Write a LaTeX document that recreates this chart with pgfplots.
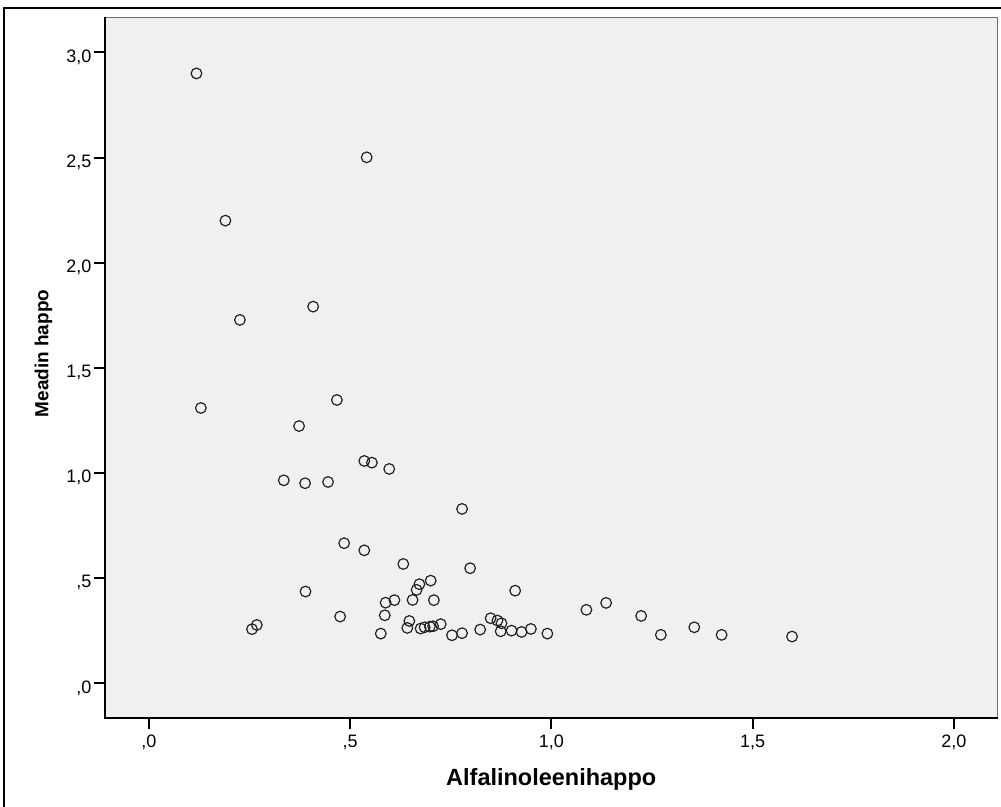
\documentclass[border=0pt]{standalone}
\usepackage{fontspec}
\setmainfont{Liberation Sans}
\usepackage{pgfplots}
\pgfplotsset{compat=1.18}
\usepackage{pgfplotstable}
\definecolor{plotbg}{RGB}{240,240,240}
\definecolor{markc}{RGB}{34,34,34}
\definecolor{framegray}{RGB}{110,110,110}

\pgfplotstableread{
x y
0.118 2.900
0.190 2.200
0.541 2.501
0.408 1.791
0.226 1.728
0.129 1.309
0.467 1.347
0.373 1.223
0.535 1.057
0.554 1.049
0.597 1.019
0.335 0.965
0.388 0.951
0.445 0.957
0.778 0.829
0.485 0.666
0.535 0.632
0.632 0.567
0.798 0.547
0.700 0.488
0.672 0.471
0.665 0.444
0.910 0.440
0.389 0.436
0.655 0.396
0.708 0.395
0.610 0.395
0.588 0.383
0.586 0.323
0.475 0.317
0.268 0.277
0.256 0.257
0.576 0.236
0.647 0.296
0.642 0.263
0.675 0.260
0.685 0.266
0.698 0.269
0.706 0.271
0.725 0.281
0.753 0.228
0.778 0.238
0.823 0.255
0.849 0.309
0.866 0.298
0.876 0.285
0.874 0.247
0.901 0.250
0.926 0.244
0.949 0.258
0.990 0.236
1.087 0.349
1.136 0.382
1.223 0.320
1.272 0.230
1.355 0.266
1.423 0.230
1.598 0.222
}\datatable

\begin{document}
\begin{tikzpicture}
\useasboundingbox (-78.525pt,-66.975pt) rectangle (672.225pt,538.275pt);
\begin{axis}[
  name=ax,
  at={(0,0)}, anchor=south west,
  scale only axis,
  width=669.75pt, height=525.3pt,
  xmin=-0.110, xmax=2.109,
  ymin=-0.164, ymax=3.167,
  axis background/.style={fill=plotbg},
  axis line style={draw=framegray, line width=1pt},
  tick pos=left,
  tick align=outside,
  major tick length=8.25pt,
  major tick style={line width=1.5pt, black},
  xtick={0,0.5,1,1.5,2},
  xticklabels={{,0},{,5},{1,0},{1,5},{2,0}},
  ytick={0,0.5,1,1.5,2,2.5,3},
  yticklabels={{,0},{,5},{1,0},{1,5},{2,0},{2,5},{3,0}},
  tick label style={font=\fontsize{13.5}{16}\selectfont},
  xticklabel style={anchor=north, inner sep=0pt, yshift=-4.7pt},
  yticklabel style={anchor=base east, inner sep=0pt, xshift=-1.5pt, yshift=-7.4pt},
  xlabel={Alfalinoleenihappo},
  ylabel={Meadin happo},
  every axis x label/.style={at={([yshift=-51.2pt]rel axis cs:0.5,0)}, anchor=base, font=\fontsize{17.6}{20}\selectfont\bfseries},
  every axis y label/.style={at={([xshift=-42.3pt]rel axis cs:0,0.52)}, rotate=90, anchor=base, font=\fontsize{14.2}{17}\selectfont\bfseries},
  clip=false,
]
\addplot[only marks, mark=o, mark size=4pt, mark options={line width=0.9pt, draw=markc}] table[x=x, y=y] {\datatable};
\end{axis}
\draw[line width=1.5pt, black] (ax.north west) -- (ax.south west) -- (ax.south east);
\draw[line width=1.5pt, black] (-75.15pt,-80pt) -- (-75.15pt,531.9pt) -- (690pt,531.9pt);
\end{tikzpicture}
\end{document}
